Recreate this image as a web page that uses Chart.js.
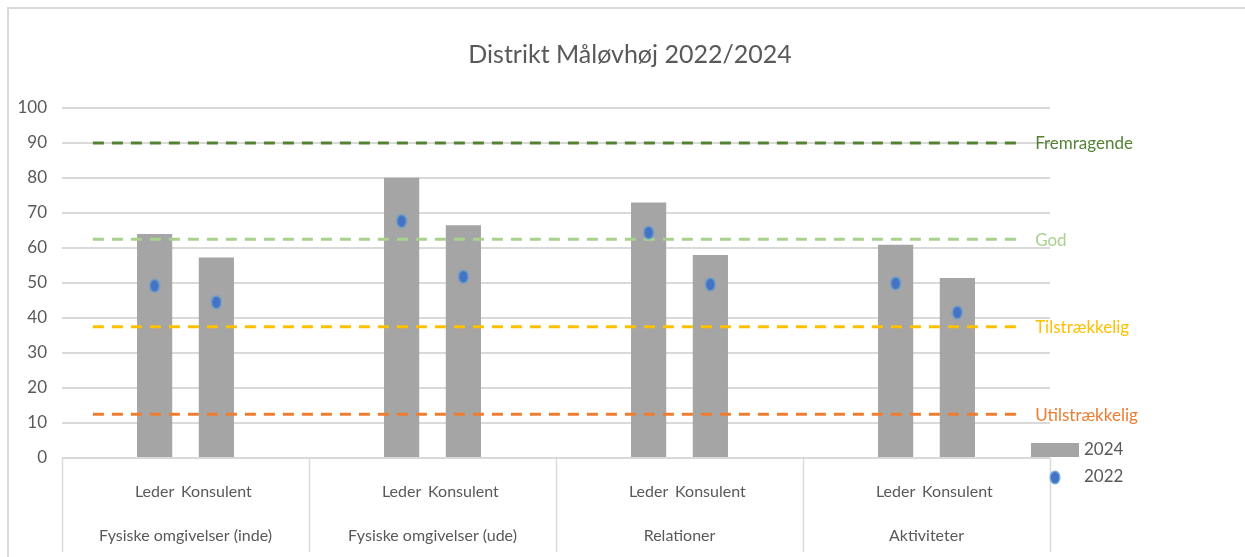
<!DOCTYPE html>
<html>
<head>
<meta charset="utf-8">
<script src="https://cdn.jsdelivr.net/npm/chart.js@4.4.1/dist/chart.umd.min.js"></script>
<style>
  body { margin: 0; background: #fff; }
  #wrap { width: 1245px; height: 557px; position: relative; }
</style>
</head>
<body>
<div id="wrap"><canvas id="maalChart"></canvas></div>
<script>
// Data
const groupNames = ['Fysiske omgivelser (inde)', 'Fysiske omgivelser (ude)', 'Relationer', 'Aktiviteter'];
const slotLabels = ['', 'Leder', 'Konsulent', '', '', 'Leder', 'Konsulent', '', '', 'Leder', 'Konsulent', '', '', 'Leder', 'Konsulent', ''];
const values2024 = [null, 64, 57.3, null, null, 80.1, 66.5, null, null, 73, 58, null, null, 60.9, 51.4, null];
const values2022 = [null, 49.2, 44.5, null, null, 67.7, 51.8, null, null, 64.4, 49.6, null, null, 49.9, 41.6, null];
const yTicks = [0, 10, 20, 30, 40, 50, 60, 70, 80, 90, 100];

// Niveaulinjer
const levelNames = ['Fremragende', 'God', 'Tilstrækkelig', 'Utilstrækkelig'];
const levelColors = ['#548235', '#a9d18e', '#ffc000', '#ed7d31'];
const fremragende = [90, 90, 90, 90, 90, 90, 90, 90, 90, 90, 90, 90, 90, 90, 90, 90];
const god = [62.5, 62.5, 62.5, 62.5, 62.5, 62.5, 62.5, 62.5, 62.5, 62.5, 62.5, 62.5, 62.5, 62.5, 62.5, 62.5];
const tilstraekkelig = [37.5, 37.5, 37.5, 37.5, 37.5, 37.5, 37.5, 37.5, 37.5, 37.5, 37.5, 37.5, 37.5, 37.5, 37.5, 37.5];
const utilstraekkelig = [12.5, 12.5, 12.5, 12.5, 12.5, 12.5, 12.5, 12.5, 12.5, 12.5, 12.5, 12.5, 12.5, 12.5, 12.5, 12.5];
const levelData = [fremragende, god, tilstraekkelig, utilstraekkelig];

const FONT = "Lato, 'Open Sans', sans-serif";
const GRAY_TEXT = '#595959';
const GRID = '#d9d9d9';
const BAR_COLOR = '#a5a5a5';

// oval prik som i Excel
function makeDot() {
    var c = document.createElement('canvas');
    c.width = 12; c.height = 15;
    var g = c.getContext('2d');
    g.fillStyle = 'rgba(91,155,213,0.85)';
    g.beginPath(); g.ellipse(6, 7.5, 5.5, 7, 0, 0, Math.PI * 2); g.fill();
    g.fillStyle = '#4472c4';
    g.beginPath(); g.ellipse(6, 7.5, 4, 5.5, 0, 0, Math.PI * 2); g.fill();
    return c;
}
const dotImg = makeDot();

const levelDatasets = levelNames.map(function(name, i) {
    return {
        type: 'line',
        label: name,
        data: levelData[i],
        borderColor: levelColors[i],
        borderWidth: 3,
        borderDash: [11, 8],
        pointRadius: 0,
        fill: false,
        order: 1,
        isLevel: true
    };
});

// ramme og skillelinjer under x-aksen
const framePlugin = {
    id: 'frame',
    beforeDraw: function(chart) {
        var ctx = chart.ctx;
        ctx.save();
        ctx.fillStyle = '#fff';
        ctx.fillRect(0, 0, chart.width, chart.height);
        ctx.strokeStyle = GRID;
        ctx.lineWidth = 2;
        ctx.beginPath();
        ctx.moveTo(8, chart.height);
        ctx.lineTo(8, 8);
        ctx.lineTo(chart.width, 8);
        ctx.stroke();
        ctx.restore();
    },
    afterDraw: function(chart) {
        var ctx = chart.ctx;
        var x2 = chart.scales.x2;
        var area = chart.chartArea;
        ctx.save();
        ctx.strokeStyle = GRID;
        ctx.lineWidth = 1.5;
        ctx.beginPath();
        for (var i = 0; i <= groupNames.length; i++) {
            var x = Math.round(x2.left + i * x2.width / groupNames.length) + 0.5;
            ctx.moveTo(x, area.bottom);
            ctx.lineTo(x, chart.height - 5);
        }
        ctx.stroke();
        ctx.restore();
    }
};

// tekst ved niveaulinjerne + forklaring
const labelPlugin = {
    id: 'labels',
    afterDraw: function(chart) {
        var ctx = chart.ctx;
        ctx.save();
        ctx.font = '17px ' + FONT;
        ctx.textBaseline = 'middle';
        ctx.textAlign = 'left';
        chart.data.datasets.forEach(function(ds, i) {
            if (!ds.isLevel) return;
            var pts = chart.getDatasetMeta(i).data;
            var last = pts[pts.length - 1];
            ctx.fillStyle = ds.borderColor;
            ctx.fillText(ds.label, last.x + 16, last.y + 1);
        });

        var area = chart.chartArea;
        var lx = area.right - 19;
        var ly = area.bottom - 8;
        var bar = chart.data.datasets[0];
        var dot = chart.data.datasets[1];
        ctx.fillStyle = bar.backgroundColor;
        ctx.fillRect(lx, ly - 7, 48, 14);
        ctx.drawImage(dotImg, lx + 18, ly + 20);
        ctx.fillStyle = GRAY_TEXT;
        ctx.fillText(bar.label, lx + 53, ly);
        ctx.fillText(dot.label, lx + 53, ly + 27);
        ctx.restore();
    }
};

const ctx = document.getElementById('maalChart').getContext('2d');
const maalChart = new Chart(ctx, {
    type: 'bar',
    data: {
        labels: slotLabels,
        datasets: [
            {
                type: 'bar',
                label: '2024',
                data: values2024,
                backgroundColor: BAR_COLOR,
                barPercentage: 0.57,
                categoryPercentage: 1,
                order: 2
            },
            {
                type: 'line',
                label: '2022',
                data: values2022,
                showLine: false,
                pointStyle: dotImg,
                pointRadius: 6,
                order: 0
            }
        ].concat(levelDatasets)
    },
    options: {
        responsive: true,
        maintainAspectRatio: false,
        animation: false,
        layout: {
            padding: { top: 8, left: 15, right: 0, bottom: 0 }
        },
        plugins: {
            legend: { display: false },
            tooltip: { enabled: false },
            title: {
                display: true,
                text: 'Distrikt Måløvhøj 2022/2024',
                color: GRAY_TEXT,
                font: { family: FONT, size: 25, weight: 'normal', lineHeight: 1.2 },
                padding: { top: 32, bottom: 38 }
            }
        },
        scales: {
            y: {
                min: 0,
                max: 100,
                afterBuildTicks: function(axis) {
                    axis.ticks = yTicks.map(function(v) { return { value: v }; });
                },
                afterFit: function(axis) { axis.width = 47; },
                grid: { color: GRID, lineWidth: 2, drawTicks: false },
                border: { display: false },
                ticks: {
                    color: GRAY_TEXT,
                    padding: 15,
                    font: { family: FONT, size: 17 }
                }
            },
            // tom akse til højre - giver plads til tekster og forklaring
            yr: {
                position: 'right',
                min: 0,
                max: 100,
                afterFit: function(axis) { axis.width = 195; },
                grid: { display: false },
                border: { display: false },
                ticks: { display: false }
            },
            x: {
                type: 'category',
                weight: 0,
                afterFit: function(axis) { axis.height = 55; },
                grid: { display: false },
                border: { display: false },
                ticks: {
                    color: GRAY_TEXT,
                    autoSkip: false,
                    maxRotation: 0,
                    padding: 16,
                    font: { family: FONT, size: 16 }
                }
            },
            x2: {
                type: 'category',
                position: 'bottom',
                labels: groupNames,
                offset: true,
                weight: 1,
                afterFit: function(axis) { axis.height = 44; },
                grid: { display: false },
                border: { display: false },
                ticks: {
                    color: GRAY_TEXT,
                    maxRotation: 0,
                    padding: 5,
                    font: { family: FONT, size: 16 }
                }
            }
        }
    },
    plugins: [framePlugin, labelPlugin]
});
</script>
</body>
</html>
